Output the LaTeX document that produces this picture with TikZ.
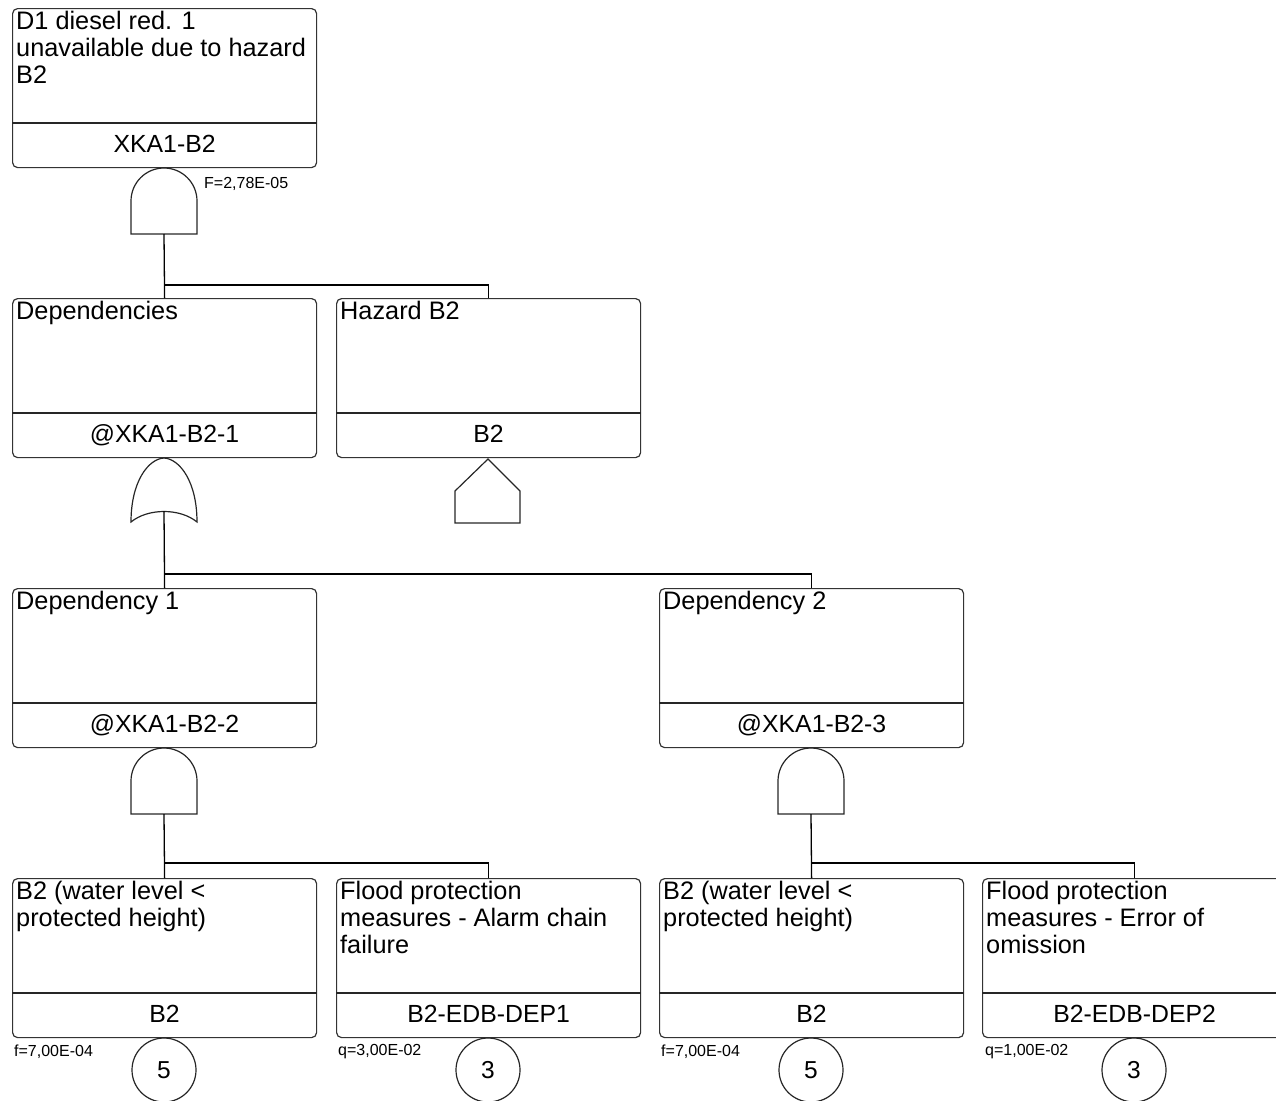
\documentclass[tikz,border=0pt]{standalone}
\usepackage{fontspec}
\setmainfont{Liberation Sans}
\newcommand\ftevent[5]{%
  \node[evbox] (#1) at (#2,#3) {};
  \draw[divline] ([yshift=-115pt]#1.north west) -- ([yshift=-115pt]#1.north east);
  \node[toptext] (#1t) at ([xshift=4pt,yshift=-2pt]#1.north west) {\rule{0pt}{19pt}#4};
  \node[idtext] (#1i) at ([yshift=16pt]#1.south) {#5};
}
\newcommand\andgate[3]{%
  \draw[gate] (#2-33,#3+66) -- (#2-33,#3+33) arc[start angle=180,end angle=360,radius=33] -- (#2+33,#3+66) -- cycle;
  \coordinate (#1) at (#2,#3+66);
}
\begin{document}
\begin{tikzpicture}[x=1pt,y=-1pt,
  evbox/.style={draw=black!80, line width=1.2pt, rounded corners=5pt, minimum width=304pt, minimum height=159pt, inner sep=0pt, anchor=north west},
  divline/.style={draw=black!85, line width=1.2pt},
  toptext/.style={anchor=north west, inner sep=0pt, align=left, font=\fontsize{25.3}{27}\selectfont},
  idtext/.style={anchor=base, inner sep=0pt, font=\fontsize{24.8}{27}\selectfont},
  gate/.style={draw=black!85, line width=1.2pt},
  conn/.style={draw=black, line width=1.3pt},
  small/.style={anchor=west, inner sep=0pt, font=\fontsize{16}{18}\selectfont},
  xfer/.style={circle, draw=black!85, line width=1.2pt, minimum size=64pt, inner sep=0pt, font=\fontsize{24.5}{27}\selectfont}
]
\path[use as bounding box, clip] (0,0) rectangle (1276,1100);

% events
\ftevent{top}{12}{8}{D1 diesel red. 1\\unavailable due to hazard\\B2}{XKA1-B2}
\ftevent{dep}{12}{298}{Dependencies}{@XKA1-B2-1}
\ftevent{haz}{336}{298}{Hazard B2}{B2}
\ftevent{dA}{12}{588}{Dependency 1}{@XKA1-B2-2}
\ftevent{dB}{659}{588}{Dependency 2}{@XKA1-B2-3}
\ftevent{b1}{12}{878}{B2 (water level <\\protected height)}{B2}
\ftevent{b2}{336}{878}{Flood protection\\measures - Alarm chain\\failure}{B2-EDB-DEP1}
\ftevent{b3}{659}{878}{B2 (water level <\\protected height)}{B2}
\ftevent{b4}{982}{878}{Flood protection\\measures - Error of\\omission}{B2-EDB-DEP2}

% gates
\andgate{g1}{164}{168}
\andgate{g2}{164}{748}
\andgate{g3}{811}{748}
\draw[gate] (131,522) .. controls (131,482) and (148,459) .. (164,458)
  .. controls (180,459) and (197,482) .. (197,522)
  .. controls (180,508) and (148,508) .. (131,522) -- cycle;
\coordinate (or1) at (164,511);
% house event
\draw[gate] (455,523) -- (455,491) -- (488,459) -- (520,491) -- (520,523) -- cycle;

% connectors
\coordinate (bus1) at (164,285);
\coordinate (bus2) at (164,574);
\coordinate (bus3) at (164,863);
\coordinate (bus4) at (811,863);
\draw[conn] (g1) -- (dep.north);
\draw[conn] (bus1) -| (haz.north);
\draw[conn] (or1) -- (dA.north);
\draw[conn] (bus2) -| (dB.north);
\draw[conn] (g2) -- (b1.north);
\draw[conn] (bus3) -| (b2.north);
\draw[conn] (g3) -- (b3.north);
\draw[conn] (bus4) -| (b4.north);

% labels
\node[small] (fA) at (204,184) {F=2,78E-05};
\node[small] (f1) at (14,1052) {f=7,00E-04};
\node[small] (q1) at (338,1052) {q=3,00E-02};
\node[small] (f2) at (661,1052) {f=7,00E-04};
\node[small] (q2) at (985,1052) {q=1,00E-02};

% transfer circles
\node[xfer] (c1) at (164,1070) {5};
\node[xfer] (c2) at (488,1070) {3};
\node[xfer] (c3) at (811,1070) {5};
\node[xfer] (c4) at (1134,1070) {3};
\end{tikzpicture}
\end{document}
